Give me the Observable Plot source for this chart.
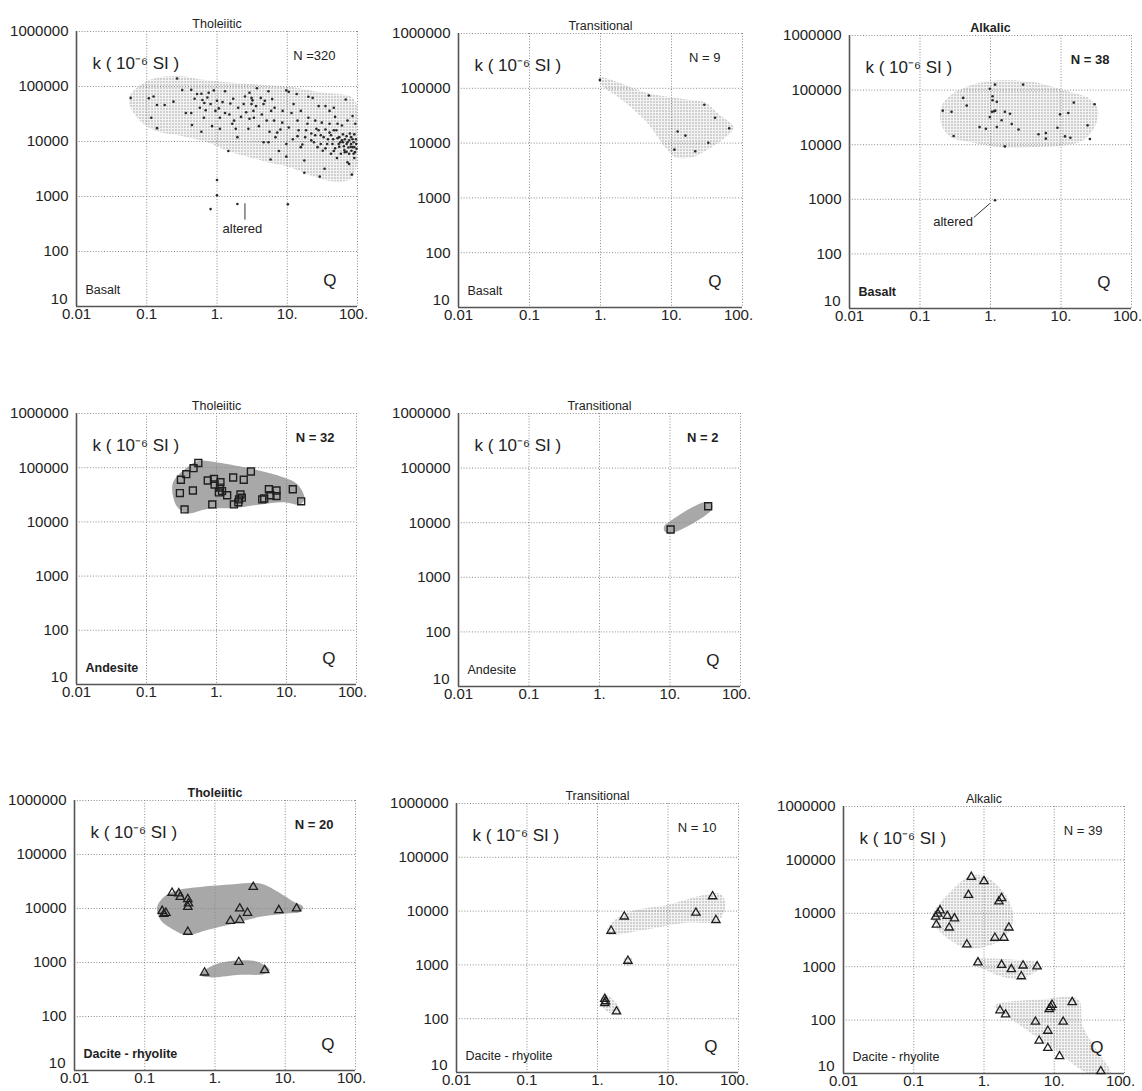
<!DOCTYPE html>
<html>
<head>
<meta charset="utf-8">
<script src="https://cdn.jsdelivr.net/npm/d3@7"></script>
<script src="https://cdn.jsdelivr.net/npm/@observablehq/plot@0.6"></script>
<style>
  body { margin: 0; background: #fff; }
  #fig { position: relative; width: 1142px; height: 1091px; overflow: hidden; background: #fff;
         font-family: "Liberation Sans", Arial, sans-serif; }
  #fig > svg { position: absolute; }
</style>
</head>
<body>
<svg width="0" height="0" style="position:absolute">
  <defs>
    <pattern id="stipLight" width="3" height="3" patternUnits="userSpaceOnUse">
      <rect width="3" height="3" fill="#f3f3f3"/>
      <rect width="1" height="1" fill="#666"/>
    </pattern>
    <pattern id="stipDark" width="2" height="2" patternUnits="userSpaceOnUse">
      <rect width="2" height="2" fill="#bdbdbd"/>
      <rect width="1" height="1" fill="#6a6a6a"/>
    </pattern>
  </defs>
</svg>
<div id="fig"></div>
<script>
// ---------- axis ticks ----------
const xTicks = [0.01, 0.1, 1, 10, 100];
const xTickLabels = ["0.01", "0.1", "1.", "10.", "100."];
const yTicks = [10, 100, 1000, 10000, 100000, 1000000];
const yTickLabels = ["10", "100", "1000", "10000", "100000", "1000000"];

// ---------- Panel 1: Basalt, Tholeiitic (Q, k) ----------
const p1Points = [
  [0.059,62000],[0.107,61000],[0.125,66000],[0.14,46000],[0.18,46000],[0.116,27000],[0.14,17500],[0.24,53000],
  [0.27,140000],[0.32,86000],[0.43,87000],[0.36,33000],[0.43,33000],[0.44,20000],[0.6,74000],[0.62,57000],
  [0.66,50000],[0.6,15000],[0.76,77000],[0.69,37000],[0.9,85000],[0.95,36000],[1.06,40000],[1.1,27000],
  [1.3,82000],[1.2,52000],[1.45,6700],[1.3,33000],[1.55,49000],[1.75,24000],[2.0,41000],[1.85,17000],
  [1.95,12000],[2.2,28000],[2.9,77000],[3.1,62000],[3.1,48000],[2.9,26000],[3.3,36000],[3.7,93000],
  [3.6,44000],[4.2,62000],[4.6,48000],[5.4,82000],[5.1,24000],[5.9,36000],[6.6,41000],[5.6,15000],
  [4.6,9700],[5.4,9700],[5.8,4700],[7.6,6700],[8.0,16500],[6.8,12000],[9.7,85000],[10.5,80000],
  [9.7,9000],[9.7,5300],[12,11000],[12.3,48000],[13.6,73000],[14,24000],[14.5,16000],[15.6,36000],
  [16.4,8800],[17.5,4500],[17.5,2700],[19.4,21000],[20,65000],[23,62000],[22,10500],[25,24000],
  [28,44000],[28,16000],[30,9000],[29,2300],[35,44000],[35,16500],[33,12000],[34,3200],[40,36000],
  [40,21000],[42,13000],[44,9000],[46,41000],[48,28000],[50,16000],[52,11500],[54,9000],[57,9700],
  [60,19500],[62,13500],[64,8200],[68,58000],[66,11000],[70,9000],[72,4200],[72,24000],[74,7800],
  [76,10500],[78,14000],[81,9000],[82,6800],[83,2500],[85,29000],[88,9700],[90,7900],[92,6400],
  [93,21000],[95,11000],[96,9000],[97,7400],
  [0.52,73000],[0.57,41000],[0.65,27000],[0.73,63000],[0.81,48000],[0.85,19000],[1.0,55000],[1.1,17000],
  [1.5,31000],[1.65,21000],[2.4,48000],[2.6,34000],[2.8,17000],[3.35,27000],[3.95,19000],[4.35,31000],
  [4.8,55000],[6.1,59000],[6.5,24000],[7.2,14500],[8.6,36000],[11.5,33000],[14,12500],[15.6,7900],
  [18.5,16000],[20,27000],[24,9700],[27,7900],[31,22000],[32,6800],[37,9000],[42,6000],[46,6700],
  [51,5000],[55,12000],[58,6000],[62,9700],[66,6400],[70,12500],[72,9700],[76,6000],[81,12000],
  [85,7900],[90,5000],[76,3900],[90,13500],[46,16000],[52,21000],[40,14500],[30,13000],[25,13000],
  [45,11000],[55,8000],[65,7000],[80,8000],[85,11000],[60,10500],[38,11000],[48,7500],[70,6500],
  [88,6000],[35,7500],[26,17000],[22,14000],[18,12000],[10.5,18000],[8.5,22000],[3.2,56000],[2.5,66000],
  [1.7,60000],[0.48,60000],
  [0.81,590],[1.0,2000],[1.0,1050],[1.95,730],[10.2,720]
];
const p1Region = [[
  [0.056,61000],[0.102,127000],[0.27,156000],[0.73,130000],[4.2,108000],[11,99000],[30,78000],[81,65000],
  [100,41000],[100,4500],[81,2100],[42,1900],[21.6,2400],[11,3400],[5.2,4200],[2.7,5300],[1.4,6800],
  [0.73,9700],[0.30,12700],[0.127,16000],[0.073,27000]
]];
const p1AnnotText = [[2.3,262,"altered"]];
const p1AnnotLine = [[2.5,750,2.5,380]];

// ---------- Panel 2: Basalt, Transitional ----------
const p2Points = [
  [0.98,141000],[4.8,74000],[29,50000],[41,29000],[65,18600],[12.2,16300],[15.7,13700],[33,10100],[11,7600],[21.6,7100]
];
const p2Region = [[
  [0.95,157000],[1.81,128000],[4.3,84000],[15.6,63000],[30,55000],[46,34000],[75,19300],[57,12600],
  [30,7200],[19.4,5500],[11.3,5500],[8.2,8300],[4.3,25500],[1.81,68000],[1.05,111000]
]];

// ---------- Panel 3: Basalt, Alkalic ----------
const p3Points = [
  [0.21,42000],[0.28,40000],[0.30,14400],[0.41,72000],[0.46,52000],[0.70,21000],[0.86,19600],[0.98,106000],
  [1.16,126000],[1.07,77000],[1.07,65000],[1.23,61000],[0.98,32000],[1.12,41000],[1.17,42000],[1.23,21000],
  [1.44,28000],[1.6,40000],[1.89,37000],[2.0,24000],[2.5,19000],[1.6,9300],[2.9,126000],[4.8,15500],
  [6.1,16300],[6.1,12900],[8.9,20500],[9.7,36000],[12.7,38000],[11.4,14200],[13.6,13400],[15.2,59000],
  [23.8,22600],[25.7,12700],[30,55000],[1.05,40000],
  [1.16,960]
];
const p3Region = [[
  [0.20,49000],[0.27,80000],[0.51,122000],[1.22,150000],[4.0,140000],[13.4,92000],[25.7,69000],[33.7,42000],
  [30,21000],[20.6,12000],[10.8,9700],[4.5,9100],[1.52,8800],[0.51,11200],[0.27,13800],[0.20,24000]
]];
const p3AnnotText = [[0.295,390,"altered"]];
const p3AnnotLine = [[0.58,465,0.98,840]];

// ---------- Panel 4: Andesite, Tholeiitic ----------
const p4Points = [
  [0.55,122000],[0.47,98000],[0.37,76000],[0.31,60000],[0.30,34000],[0.46,38000],[0.35,17000],[0.75,58000],
  [0.92,62000],[0.94,49000],[1.14,54000],[1.12,43000],[1.08,35000],[1.2,37000],[1.42,31000],[0.87,21000],
  [1.73,66000],[2.45,60000],[3.1,85000],[2.2,32000],[2.3,28000],[2.1,26000],[2.05,23000],[1.77,21000],
  [4.5,26000],[4.8,27000],[5.6,40000],[5.9,31000],[7.2,38000],[7.2,30000],[12.3,40000],[16.2,24000]
];
const p4Region = [[
  [0.245,57000],[0.38,101000],[0.56,134000],[1.02,125000],[3.4,94000],[9.2,66000],[14.2,50000],[18,28000],
  [15.8,21000],[9.2,23000],[4.25,21000],[1.77,18000],[0.74,17300],[0.38,14400],[0.274,19000],[0.233,38000]
]];

// ---------- Panel 5: Andesite, Transitional ----------
const p5Points = [[10.2,7500],[34.8,20000]];
const p5Region = [[
  [8.2,8400],[9.7,10300],[31.9,24000],[39.7,20800],[37.6,16400],[10.8,6500],[8.5,6800]
]];

// ---------- Panel 6: Dacite - rhyolite, Tholeiitic ----------
const p6Points = [
  [0.245,19500],[0.305,19000],[0.32,16400],[0.41,14900],[0.42,12400],[0.41,10700],[0.177,9000],[0.187,7900],
  [0.20,8300],[0.41,3700],[3.5,25000],[2.25,10000],[2.9,8300],[1.66,5900],[2.25,6100],[8.1,9300],
  [14.5,10000],[0.71,650],[2.18,1020],[5.1,720]
];
const p6Region = [
  [[0.15,10700],[0.187,16400],[0.29,21800],[0.62,25000],[1.85,28000],[4.4,29000],[8.6,19000],[13.2,13300],
   [18,10700],[16.5,8700],[10.6,8100],[4.4,7000],[1.85,5300],[0.77,4000],[0.40,3200],[0.26,4000],[0.168,6100]],
  [[0.66,650],[0.96,900],[1.85,1080],[4.0,1035],[6.0,730],[5.0,610],[2.3,590],[0.96,530],[0.66,560]]
];

// ---------- Panel 7: Dacite - rhyolite, Transitional ----------
const p7Points = [
  [1.56,4300],[2.4,7900],[24.9,9300],[42.9,18800],[47.8,6800],[2.7,1190],[1.27,233],[1.27,194],[1.3,210],[1.86,136]
];
const p7Region = [
  [[1.37,4600],[1.8,7000],[3.1,10000],[10.2,13200],[30,19400],[55,21100],[65,14200],[59,8100],[47,6300],
   [17.6,6100],[9.2,5300],[3.85,4300],[1.8,3630],[1.42,3730]],
  [[2.36,1300],[3.1,1330],[3.1,1020],[2.36,1000]],
  [[1.14,257],[1.42,268],[2.11,146],[2.0,118],[1.61,122],[1.16,168]]
];

// ---------- Panel 8: Dacite - rhyolite, Alkalic ----------
const p8Points = [
  [0.66,48000],[1.0,40000],[0.60,22000],[1.78,19200],[1.63,16700],[0.237,11300],[0.22,9800],[0.205,8600],
  [0.30,8900],[0.38,8000],[0.21,6100],[0.32,5400],[2.26,5400],[1.43,3470],[1.92,3470],[0.57,2600],
  [0.82,1200],[1.78,1080],[2.45,900],[3.6,1050],[5.7,1010],[3.4,660],
  [1.69,152],[2.03,127],[5.4,93],[8.9,175],[9.3,193],[8.5,160],[18,216],[13.4,93],[8.1,63],[6.1,41],
  [8.1,30],[11.9,21],[46,11]
];
const p8Region = [
  [[0.195,11000],[0.30,22000],[0.645,51000],[1.06,48000],[1.73,29000],[2.4,14500],[2.6,8300],[2.4,5100],
   [1.73,3100],[1.0,2350],[0.58,2190],[0.336,3100],[0.217,5100],[0.184,8300]],
  [[0.74,1340],[1.24,1430],[3.0,1340],[5.7,1200],[6.5,980],[5.1,760],[3.0,580],[1.73,660],[1.0,900],[0.74,1080]],
  [[1.5,198],[6.4,244],[22,244],[25,82],[39,29],[63,10],[31,10],[12.3,23],[4.6,58],[2.0,125],[1.41,174]]
];

// ---------- panel layout (page pixel positions of each plot frame) ----------
const panels = [
  {L:76,  R:357,  T:31,  B:306,  title:"Tholeiitic",   titleBold:false, n:"N =320", nBold:false, rock:"Basalt",            rockBold:false, pts:p1Points, reg:p1Region, fill:"url(#stipLight)", marker:"dot", at:p1AnnotText, al:p1AnnotLine},
  {L:458, R:742,  T:33,  B:307,  title:"Transitional", titleBold:false, n:"N = 9",  nBold:false, rock:"Basalt",            rockBold:false, pts:p2Points, reg:p2Region, fill:"url(#stipLight)", marker:"dot"},
  {L:849, R:1131, T:35,  B:308,  title:"Alkalic",      titleBold:true,  n:"N = 38", nBold:true,  rock:"Basalt",            rockBold:true,  pts:p3Points, reg:p3Region, fill:"url(#stipLight)", marker:"dot", at:p3AnnotText, al:p3AnnotLine},
  {L:76,  R:356,  T:413, B:684,  title:"Tholeiitic",   titleBold:false, n:"N = 32", nBold:true,  rock:"Andesite",          rockBold:true,  pts:p4Points, reg:p4Region, fill:"url(#stipDark)",  marker:"square"},
  {L:458, R:740,  T:413, B:686,  title:"Transitional", titleBold:false, n:"N = 2",  nBold:true,  rock:"Andesite",          rockBold:false, pts:p5Points, reg:p5Region, fill:"url(#stipDark)",  marker:"square"},
  {L:74,  R:355,  T:800, B:1070, title:"Tholeiitic",   titleBold:true,  n:"N = 20", nBold:true,  rock:"Dacite - rhyolite", rockBold:true,  pts:p6Points, reg:p6Region, fill:"url(#stipDark)",  marker:"triangle"},
  {L:456, R:738,  T:803, B:1072, title:"Transitional", titleBold:false, n:"N = 10", nBold:false, rock:"Dacite - rhyolite", rockBold:false, pts:p7Points, reg:p7Region, fill:"url(#stipLight)", marker:"triangle"},
  {L:843, R:1124, T:806, B:1073, title:"Alkalic",      titleBold:false, n:"N = 39", nBold:false, rock:"Dacite - rhyolite", rockBold:false, pts:p8Points, reg:p8Region, fill:"url(#stipLight)", marker:"triangle"}
];

const FONT = '"Liberation Sans", Arial, sans-serif';
const INK = "#222";
const mL = 72, mT = 28, mR = 12, mB = 20;
const fig = document.getElementById("fig");

const rows = pairs => pairs.map(([Q, k]) => ({Q, k}));
const regionRows = parts => parts.flatMap((p, g) => p.map(([Q, k]) => ({Q, k, g})));
const xFmt = d => xTickLabels[xTicks.indexOf(d)];
const yFmt = d => yTickLabels[yTicks.indexOf(d)];

for (const c of panels) {
  const w = c.R - c.L, h = c.B - c.T;
  const axisText = {tickSize: 0, label: null, fontSize: 15, fill: INK};
  const marks = [
    Plot.line(regionRows(c.reg), {x: "Q", y: "k", z: "g", curve: "catmull-rom-closed", fill: c.fill, stroke: "none", clip: true}),
    Plot.gridX(xTicks, {stroke: "#8a8a8a", strokeOpacity: 1, strokeWidth: 1, strokeDasharray: "1,1.8"}),
    Plot.gridY(yTicks, {stroke: "#8a8a8a", strokeOpacity: 1, strokeWidth: 1, strokeDasharray: "1,1.8"}),
    Plot.ruleX([0.01], {stroke: "#555", strokeWidth: 1.6}),
    Plot.ruleY([10], {stroke: "#555", strokeWidth: 1.6}),
    Plot.axisX(xTicks.slice(0, 4), {...axisText, tickPadding: 2, tickFormat: xFmt}),
    Plot.axisX(xTicks.slice(4), {...axisText, tickPadding: 2, dx: -4, tickFormat: xFmt}),
    Plot.axisY(yTicks.slice(1), {...axisText, tickPadding: 8, tickFormat: yFmt}),
    Plot.axisY(yTicks.slice(0, 1), {...axisText, tickPadding: 9, dy: -7, tickFormat: yFmt})
  ];
  const data = rows(c.pts);
  if (c.marker === "dot") {
    marks.push(Plot.dot(data, {x: "Q", y: "k", r: 1.3, fill: "#2a2a2a", stroke: "none"}));
  } else if (c.marker === "square") {
    marks.push(Plot.dot(data, {x: "Q", y: "k", symbol: "square", r: 3.9, fill: "none", stroke: "#1e1e1e", strokeWidth: 1.4}));
  } else {
    marks.push(Plot.dot(data, {x: "Q", y: "k", symbol: "triangle", r: 3.1, fill: "none", stroke: "#1e1e1e", strokeWidth: 1.3}));
  }
  if (c.al) {
    marks.push(Plot.link(c.al, {x1: d => d[0], y1: d => d[1], x2: d => d[2], y2: d => d[3], stroke: "#333", strokeWidth: 1}));
  }
  if (c.at) {
    marks.push(Plot.text(c.at, {x: d => d[0], y: d => d[1], text: d => d[2], fontSize: 13, fill: INK, fontFamily: FONT}));
  }
  marks.push(
    Plot.text([c.title], {text: d => d, frameAnchor: "top", dy: -12, fontSize: 12.5, fill: INK, fontFamily: FONT,
      fontWeight: c.titleBold ? "bold" : "normal"}),
    Plot.text(["k ( 10\u207B\u2076 SI )"], {text: d => d, frameAnchor: "top-left", textAnchor: "start", dx: 16, dy: 25,
      fontSize: 17, fill: INK, fontFamily: FONT}),
    Plot.text([c.n], {text: d => d, frameAnchor: "top-right", textAnchor: "end", dx: -22, dy: 19,
      fontSize: 13, fill: INK, fontFamily: FONT, fontWeight: c.nBold ? "bold" : "normal"}),
    Plot.text(["Q"], {text: d => d, frameAnchor: "bottom-right", dx: -21, dy: -21, fontSize: 17, fill: INK, fontFamily: FONT}),
    Plot.text([c.rock], {text: d => d, frameAnchor: "bottom-left", textAnchor: "start", dx: 9, dy: -13,
      fontSize: 12.5, fill: INK, fontFamily: FONT, fontWeight: c.rockBold ? "bold" : "normal"})
  );

  const svg = Plot.plot({
    width: mL + w + mR,
    height: mT + h + mB,
    marginLeft: mL, marginRight: mR, marginTop: mT, marginBottom: mB,
    x: {type: "log", domain: [0.01, 100], axis: null},
    y: {type: "log", domain: [10, 1000000], axis: null},
    style: {fontFamily: FONT, fontSize: "15px", color: INK, background: "transparent", overflow: "visible"},
    marks
  });
  svg.style.left = (c.L - mL) + "px";
  svg.style.top = (c.T - mT) + "px";
  fig.appendChild(svg);
}
</script>
</body>
</html>
